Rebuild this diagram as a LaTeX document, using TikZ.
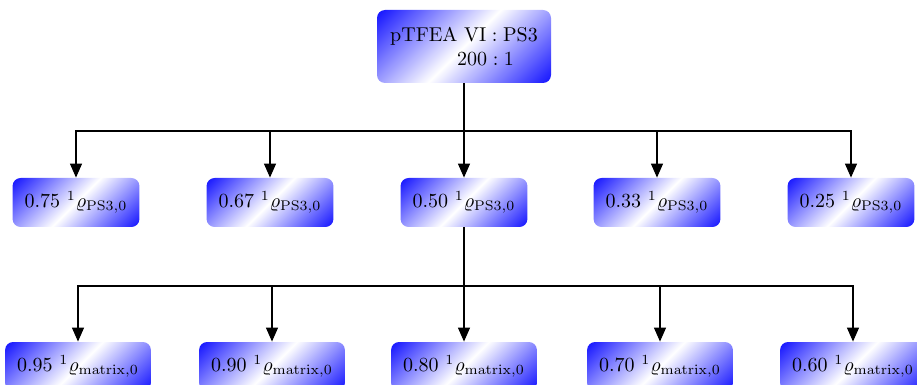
\documentclass[tikz,border=0pt]{standalone}
\usetikzlibrary{arrows.meta}
\pgfdeclareverticalshading{diagblue}{100bp}{color(0bp)=(blue); color(12bp)=(blue); color(50bp)=(white); color(88bp)=(blue); color(100bp)=(blue)}
\tikzset{
  box/.style={rounded corners=4pt, shading=diagblue, shading angle=45,
    inner xsep=6pt, minimum height=24.5pt},
  arr/.style={-{Triangle[length=7pt,width=6pt]}, line width=0.6pt},
}
\begin{document}
\begin{tikzpicture}[x=0.5pt,y=-0.5pt]
\useasboundingbox (0,0) rectangle (917,385);
\node[box, minimum width=87pt, minimum height=36.5pt, align=left] (top) at (464,46.5)
  {pTFEA VI$\;:\;$PS3\\\hspace*{33.5pt}$200:1$};
\node[box] (m1) at (76,202.5)  {0.75 $^1\varrho_{\mathrm{PS3},0}$};
\node[box] (m2) at (270,202.5) {0.67 $^1\varrho_{\mathrm{PS3},0}$};
\node[box] (m3) at (464,202.5) {0.50 $^1\varrho_{\mathrm{PS3},0}$};
\node[box] (m4) at (657,202.5) {0.33 $^1\varrho_{\mathrm{PS3},0}$};
\node[box] (m5) at (851,202.5) {0.25 $^1\varrho_{\mathrm{PS3},0}$};
\node[box] (n1) at (78,366.5)  {0.95 $^1\varrho_{\mathrm{matrix},0}$};
\node[box] (n2) at (272,366.5) {0.90 $^1\varrho_{\mathrm{matrix},0}$};
\node[box] (n3) at (464,366.5) {0.80 $^1\varrho_{\mathrm{matrix},0}$};
\node[box] (n4) at (660,366.5) {0.70 $^1\varrho_{\mathrm{matrix},0}$};
\node[box] (n5) at (853,366.5) {0.60 $^1\varrho_{\mathrm{matrix},0}$};
\coordinate (b1) at (0,131);
\coordinate (b2) at (0,286);
\foreach \c in {m1,m2,m3,m4,m5}
  \draw[arr] (top.south) -- (top.south |- b1) -| (\c.north);
\foreach \c in {n1,n2,n3,n4,n5}
  \draw[arr] (m3.south) -- (m3.south |- b2) -| (\c.north);
\end{tikzpicture}
\end{document}
